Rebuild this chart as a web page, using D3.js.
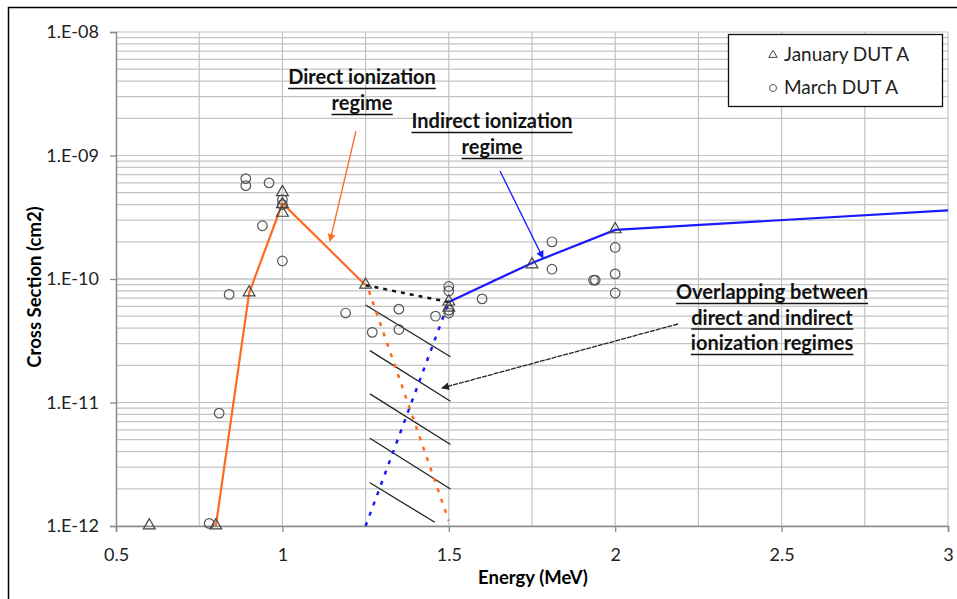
<!DOCTYPE html>
<html>
<head>
<meta charset="utf-8">
<script src="https://cdn.jsdelivr.net/npm/d3@7"></script>
<style>
  body { margin: 0; background: #fff; }
  text { font-family: Lato, "Open Sans", sans-serif; }
</style>
</head>
<body>
<svg id="chart" width="957" height="599"></svg>
<script>
// 数据：January DUT A（三角形）
const janEnergy = [0.6, 0.8, 0.9, 1.0, 1.0, 1.0, 1.25, 1.5, 1.5, 1.75, 2.0];
const janSigma  = [1e-12, 1e-12, 7.7e-11, 5.0e-10, 4.0e-10, 3.4e-10, 8.9e-11, 6.5e-11, 5.8e-11, 1.3e-10, 2.5e-10];

// 数据：March DUT A（圆形）
const marEnergy = [0.89, 0.89, 0.96, 1.0, 1.0, 0.94, 1.0, 0.84, 0.81, 0.78, 1.19, 1.27, 1.35, 1.35, 1.46,
                   1.5, 1.5, 1.5, 1.5, 1.6, 1.81, 1.81, 1.935, 1.94, 2.0, 2.0, 2.0];
const marSigma  = [6.5e-10, 5.7e-10, 6.0e-10, 4.4e-10, 4.0e-10, 2.7e-10, 1.4e-10, 7.5e-11, 8.2e-12, 1.05e-12,
                   5.3e-11, 3.7e-11, 5.7e-11, 3.9e-11, 5.0e-11, 8.7e-11, 8.0e-11, 5.6e-11, 5.3e-11, 6.9e-11,
                   2.0e-10, 1.2e-10, 9.8e-11, 9.8e-11, 1.8e-10, 1.1e-10, 7.7e-11];

// 趋势线
const directLine   = [[0.8, 1e-12], [0.9, 7.7e-11], [1.0, 4.1e-10], [1.25, 8.9e-11]];
const indirectLine = [[1.5, 6.5e-11], [1.75, 1.35e-10], [2.0, 2.5e-10], [3.0, 3.6e-10]];
const bridgeLine   = [[1.25, 8.9e-11], [1.5, 6.5e-11]];
const directExt    = [[1.26, 8.0e-11], [1.5, 1.1e-12]];
const indirectExt  = [[1.25, 1e-12], [1.5, 6.5e-11]];

// 阴影斜线 [E1, log1, E2, log2]
const hatchLines = [
  [1.25, -10.21, 1.505, -10.63],
  [1.263, -10.58, 1.505, -10.99],
  [1.263, -10.93, 1.505, -11.34],
  [1.263, -11.29, 1.505, -11.70],
  [1.263, -11.65, 1.458, -11.97]
];

const xTicks = [0.5, 1, 1.5, 2, 2.5, 3];
const yTicks = [1e-8, 1e-9, 1e-10, 1e-11, 1e-12];
const yTickLabels = ["1.E-08", "1.E-09", "1.E-10", "1.E-11", "1.E-12"];

const svg = d3.select("#chart");
const margin = { left: 116, right: 9, top: 32, bottom: 73 };
const W = 957, H = 599;

const x = d3.scaleLinear().domain([0.5, 3]).range([margin.left, W - margin.right]);
const y = d3.scaleLog().domain([1e-12, 1e-8]).range([H - margin.bottom, margin.top]);

// 外框
svg.append("rect")
  .attr("x", 8.5).attr("y", 7.5)
  .attr("width", 1000).attr("height", 700)
  .attr("fill", "none").attr("stroke", "#000").attr("stroke-width", 1.5);

// 网格线
const grid = svg.append("g").attr("stroke", "#c4c4c4").attr("stroke-width", 1.2);
const minorY = [];
for (let e = -12; e < -8; e++) {
  for (let m = 1; m <= 10; m++) minorY.push(m * Math.pow(10, e));
}
grid.selectAll("line.h").data(minorY).join("line")
  .attr("x1", x(0.5)).attr("x2", x(3))
  .attr("y1", d => y(d)).attr("y2", d => y(d));
grid.selectAll("line.v").data(d3.range(0.75, 3.01, 0.25)).join("line")
  .attr("x1", d => x(d)).attr("x2", d => x(d))
  .attr("y1", y(1e-12)).attr("y2", y(1e-8));

// 坐标轴
const xAxis = svg.append("g")
  .attr("transform", `translate(0,${y(1e-12)})`)
  .call(d3.axisBottom(x).tickValues(xTicks).tickSize(6).tickFormat(d => d));
const yAxis = svg.append("g")
  .attr("transform", `translate(${x(0.5)},0)`)
  .call(d3.axisLeft(y).tickValues(yTicks).tickSize(6).tickFormat((d, i) => yTickLabels[i]));
[xAxis, yAxis].forEach(a => {
  a.select(".domain").attr("stroke", "#8a8a8a").attr("stroke-width", 1.5);
  a.selectAll(".tick line").attr("stroke", "#8a8a8a").attr("stroke-width", 1.3);
  a.selectAll(".tick text").attr("fill", "#222").style("font-size", "18px")
    .style("font-family", "Lato, sans-serif");
});
xAxis.selectAll(".tick text").attr("dy", "1.45em");
yAxis.selectAll(".tick text").attr("dx", "-0.45em");

svg.append("text")
  .attr("x", 533).attr("y", 584)
  .attr("text-anchor", "middle")
  .attr("font-weight", "bold").attr("font-size", 18.5)
  .text("Energy (MeV)");
svg.append("text")
  .attr("transform", `translate(41,${y(1e-10) + 8}) rotate(-90)`)
  .attr("text-anchor", "middle")
  .attr("font-weight", "bold").attr("font-size", 18.5)
  .text("Cross Section (cm2)");

const line = d3.line().x(d => x(d[0])).y(d => y(d[1]));

// 阴影斜线
svg.append("g").selectAll("line").data(hatchLines).join("line")
  .attr("x1", d => x(d[0])).attr("y1", d => y(Math.pow(10, d[1])))
  .attr("x2", d => x(d[2])).attr("y2", d => y(Math.pow(10, d[3])))
  .attr("stroke", "#222").attr("stroke-width", 1.3);

// 虚线延伸
svg.append("path").datum(directExt).attr("d", line)
  .attr("fill", "none").attr("stroke", "#ff6a1f").attr("stroke-width", 2.5)
  .attr("stroke-dasharray", "4,7");
svg.append("path").datum(indirectExt).attr("d", line)
  .attr("fill", "none").attr("stroke", "#1a1aff").attr("stroke-width", 2.5)
  .attr("stroke-dasharray", "4,7");
svg.append("path").datum(bridgeLine).attr("d", line)
  .attr("fill", "none").attr("stroke", "#111").attr("stroke-width", 2.5)
  .attr("stroke-dasharray", "4,5");

// 实线
svg.append("path").datum(directLine).attr("d", line)
  .attr("fill", "none").attr("stroke", "#ff6a1f").attr("stroke-width", 2.2);
svg.append("path").datum(indirectLine).attr("d", line)
  .attr("fill", "none").attr("stroke", "#1a1aff").attr("stroke-width", 2.2);

// 数据点
const tri = d3.symbol().type(d3.symbolTriangle).size(60);
const janData = janEnergy.map((e, i) => [e, janSigma[i]]);
const marData = marEnergy.map((e, i) => [e, marSigma[i]]);
svg.append("g").selectAll("circle").data(marData).join("circle")
  .attr("cx", d => x(d[0])).attr("cy", d => y(d[1])).attr("r", 4.8)
  .attr("fill", "none").attr("stroke", "#555").attr("stroke-width", 1.2);
svg.append("g").selectAll("path").data(janData).join("path")
  .attr("d", tri)
  .attr("transform", d => `translate(${x(d[0])},${y(d[1]) - 0.5})`)
  .attr("fill", "none").attr("stroke", "#444").attr("stroke-width", 1.2);

// 箭头
const defs = svg.append("defs");
function marker(id, color) {
  defs.append("marker").attr("id", id)
    .attr("viewBox", "0 0 10 10").attr("refX", 9).attr("refY", 5)
    .attr("markerWidth", 6).attr("markerHeight", 6).attr("orient", "auto")
    .append("path").attr("d", "M0,0 L10,5 L0,10 z").attr("fill", color);
}
marker("arrOrange", "#ff6a1f");
marker("arrBlue", "#1a1aff");
marker("arrBlack", "#222");
svg.append("line").attr("x1", 356).attr("y1", 131).attr("x2", 330).attr("y2", 241)
  .attr("stroke", "#ff6a1f").attr("stroke-width", 1.3).attr("marker-end", "url(#arrOrange)");
svg.append("line").attr("x1", 500).attr("y1", 171).attr("x2", 543).attr("y2", 258)
  .attr("stroke", "#1a1aff").attr("stroke-width", 1.3).attr("marker-end", "url(#arrBlue)");
svg.append("line").attr("x1", 678).attr("y1", 324).attr("x2", 442).attr("y2", 388)
  .attr("stroke", "#222").attr("stroke-width", 1.3).attr("stroke-dasharray", "5,1")
  .attr("marker-end", "url(#arrBlack)");

// 注释文字（加粗+下划线）
function note(lines, cx, y0, dy) {
  lines.forEach((t, i) => {
    const txt = svg.append("text")
      .attr("x", cx).attr("y", y0 + i * dy)
      .attr("text-anchor", "middle")
      .attr("font-weight", "bold").attr("font-size", 20).attr("fill", "#111")
      .text(t);
    const bb = txt.node().getBBox();
    svg.append("line")
      .attr("x1", bb.x).attr("x2", bb.x + bb.width)
      .attr("y1", y0 + i * dy + 4.5).attr("y2", y0 + i * dy + 4.5)
      .attr("stroke", "#111").attr("stroke-width", 1.4);
  });
}
note(["Direct ionization", "regime"], 362, 84, 26);
note(["Indirect ionization", "regime"], 492, 128, 26);
note(["Overlapping between", "direct and indirect", "ionization regimes"], 772, 299, 25.5);

// 图例
const lg = svg.append("g");
lg.append("rect").attr("x", 728.5).attr("y", 34.5).attr("width", 214).attr("height", 72)
  .attr("fill", "#fff").attr("stroke", "#111").attr("stroke-width", 1.3);
lg.append("path").attr("d", d3.symbol().type(d3.symbolTriangle).size(30))
  .attr("transform", "translate(773,55)")
  .attr("fill", "none").attr("stroke", "#444");
lg.append("circle").attr("cx", 773).attr("cy", 88).attr("r", 3.5)
  .attr("fill", "none").attr("stroke", "#555");
lg.append("text").attr("x", 784).attr("y", 61).attr("font-size", 19).attr("fill", "#222").text("January DUT A");
lg.append("text").attr("x", 784).attr("y", 94).attr("font-size", 19).attr("fill", "#222").text("March DUT A");
</script>
</body>
</html>
